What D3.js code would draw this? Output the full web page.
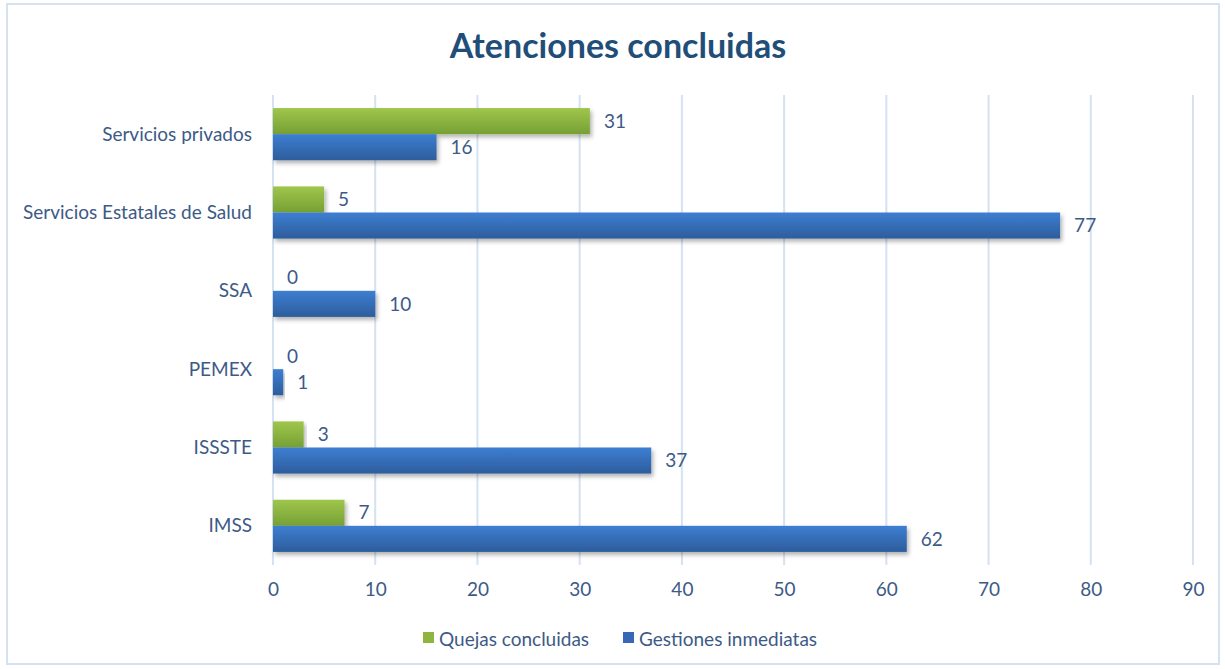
<!DOCTYPE html>
<html><head><meta charset="utf-8">
<script src="https://cdn.jsdelivr.net/npm/d3@7"></script>
<style>body{margin:0;background:#fff}svg{display:block}</style>
</head><body>
<svg id="c" width="1225" height="669"></svg>
<script>
const categories = ["Servicios privados","Servicios Estatales de Salud","SSA","PEMEX","ISSSTE","IMSS"];
const seriesNames = ["Quejas concluidas","Gestiones inmediatas"];
const quejas = [31,5,0,0,3,7];
const gestiones = [16,77,10,1,37,62];
const ticks = [0,10,20,30,40,50,60,70,80,90];
const title = "Atenciones concluidas";

const svg = d3.select("#c");
const font = "Lato, 'Open Sans', sans-serif";
const txt = "#3D5A87";
const fs = 19;
const defs = svg.append("defs");
const g1 = defs.append("linearGradient").attr("id","gg").attr("x1",0).attr("y1",0).attr("x2",0).attr("y2",1);
g1.append("stop").attr("offset","0").attr("stop-color","#9FC64B");
g1.append("stop").attr("offset","1").attr("stop-color","#76A035");
const g2 = defs.append("linearGradient").attr("id","gb").attr("x1",0).attr("y1",0).attr("x2",0).attr("y2",1);
g2.append("stop").attr("offset","0").attr("stop-color","#3D7ED2");
g2.append("stop").attr("offset","1").attr("stop-color","#2D5D9C");
const f = defs.append("filter").attr("id","sh").attr("x","-5%").attr("y","-20%").attr("width","115%").attr("height","160%");
f.append("feDropShadow").attr("dx",2).attr("dy",3).attr("stdDeviation",2).attr("flood-color","#000").attr("flood-opacity",0.3);

svg.append("rect").attr("x",7).attr("y",4).attr("width",1212).attr("height",660)
  .attr("fill","#fff").attr("stroke","#D5E2F2").attr("stroke-width",2);

const x = d3.scaleLinear().domain([0,90]).range([273,1193]);
const y = d3.scaleBand().domain(categories).range([95,565]).paddingInner(0.334).paddingOuter(0.167);
const ys = d3.scaleBand().domain(seriesNames).range([0,y.bandwidth()]);

svg.append("g").selectAll("line").data(ticks).join("line")
  .attr("x1",d=>x(d)).attr("x2",d=>x(d)).attr("y1",95).attr("y2",565)
  .attr("stroke","#D5E2F2").attr("stroke-width",2);

const ax = svg.append("g").attr("transform","translate(0,565)")
  .call(d3.axisBottom(x).tickValues(ticks).tickSize(0).tickPadding(18));
ax.select(".domain").remove();
ax.selectAll("text").attr("font-family",font).attr("font-size",fs).attr("fill",txt);

svg.append("g").selectAll("text").data(categories).join("text")
  .attr("x",252).attr("y",d=>y(d)+y.bandwidth()/2).attr("dy","0.35em")
  .attr("text-anchor","end").attr("font-family",font).attr("font-size",fs).attr("fill",txt).text(d=>d);

const data = [];
categories.forEach((c,i)=>{
  data.push({c, s:seriesNames[0], v:quejas[i], fill:"url(#gg)"});
  data.push({c, s:seriesNames[1], v:gestiones[i], fill:"url(#gb)"});
});
svg.append("g").selectAll("rect").data(data).join("rect")
  .attr("x",x(0)).attr("y",d=>y(d.c)+ys(d.s)).attr("width",d=>x(d.v)-x(0)).attr("height",ys.bandwidth())
  .attr("fill",d=>d.fill).attr("filter",d=>d.v>0?"url(#sh)":null);

svg.append("g").selectAll("text").data(data).join("text")
  .attr("x",d=>x(d.v)+14).attr("y",d=>y(d.c)+ys(d.s)+ys.bandwidth()/2).attr("dy","0.35em")
  .attr("font-family",font).attr("font-size",fs).attr("fill",txt).text(d=>d.v);

svg.append("text").attr("x",618).attr("y",58).attr("text-anchor","middle")
  .attr("font-family",font).attr("font-weight","bold").attr("font-size",34).attr("fill","#1F4E79").text(title);

const leg = [{n:seriesNames[0],c:"#8DB53F",x:423},{n:seriesNames[1],c:"#3568B5",x:623}];
const lg = svg.append("g").selectAll("g").data(leg).join("g");
lg.append("rect").attr("x",d=>d.x).attr("y",632).attr("width",11).attr("height",11).attr("fill",d=>d.c);
lg.append("text").attr("x",d=>d.x+16).attr("y",639).attr("dy","0.35em")
  .attr("font-family",font).attr("font-size",fs).attr("fill",txt).text(d=>d.n);
</script>
</body></html>
